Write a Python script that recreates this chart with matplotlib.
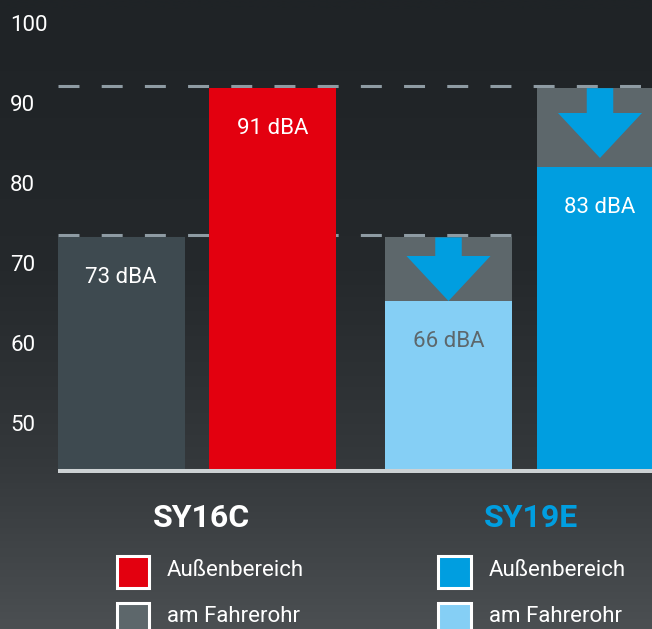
"""Noise comparison SY16C vs SY19E: outdoor level and level at the driver's ear."""
import matplotlib
matplotlib.use("Agg")
import matplotlib.pyplot as plt
import numpy as np
from matplotlib.colors import LinearSegmentedColormap
from matplotlib.patches import FancyArrow, Rectangle

# data ----------------------------------------------------------------------
GROUPS = ["SY16C", "SY19E"]
SERIES = ["am Fahrerohr", "Außenbereich"]
EAR_DBA = [73, 66]            # printed values
OUTDOOR_DBA = [91, 83]
EAR_LEVEL = [73.25, 65.25]    # bar tops as read against the axis
OUTDOOR_LEVEL = [91.9, 82.0]
YTICKS = [50, 60, 70, 80, 90, 100]

# style ---------------------------------------------------------------------
RED = "#e3000f"
BLUE = "#009ee0"
LIGHT_BLUE = "#85cff5"
DARK_GRAY = "#3e4a50"
REF_GRAY = "#5d676b"
DASH = "#8e9ba3"
BASE = "#cdd2d4"

plt.rcParams["font.family"] = ["Liberation Sans Narrow", "Roboto", "DejaVu Sans"]

W, H = 652, 629
fig = plt.figure(figsize=(W / 100, H / 100), dpi=100)

# background gradient
bg = fig.add_axes([0, 0, 1, 1], zorder=0)
cmap = LinearSegmentedColormap.from_list("bg", ["#1f2326", "#25292c", "#34383b", "#4b4f52"])
grad = np.linspace(0, 1, 256) ** 1.3
bg.imshow(grad[:, None], aspect="auto", cmap=cmap, extent=(0, 1, 0, 1))
bg.set_axis_off()

PX_X = 151.5   # pixels per x unit
PX_Y = 8.0     # pixels per dB
bottom_px = 473
ax = fig.add_axes([0, (H - bottom_px) / H, 1, bottom_px / H], zorder=1)
ax.set_facecolor("none")
y0 = 100 - (bottom_px - 23) / PX_Y
ax.set_ylim(y0, y0 + bottom_px / PX_Y)
ax.set_xlim(-121 / PX_X, (W - 121) / PX_X)
for s in ax.spines.values():
    s.set_visible(False)
ax.set_xticks([])
ax.set_yticks(YTICKS)
ax.set_yticklabels([str(t) for t in YTICKS], color="white", fontsize=16)
ax.tick_params(axis="y", length=0, pad=-7.2)
for lab in ax.get_yticklabels():
    lab.set_ha("left")

bw = 127 / PX_X
gap = 176 / PX_X
x_ear = [g * (1 + gap) for g in range(len(GROUPS))]
x_out = [x + 1 for x in x_ear]

# reference levels of the old machine (dashed)
lw = 2.2
left = x_ear[0] - bw / 2
ax.hlines(OUTDOOR_LEVEL[0] + 0.19, left, ax.get_xlim()[1], colors=DASH, lw=lw,
          linestyles=(0, (15.1 / lw, 16.0 / lw)), zorder=1)
ax.hlines(EAR_LEVEL[0] + 0.19, left, x_ear[1] + bw / 2, colors=DASH, lw=lw,
          linestyles=(0, (15.1 / lw, 16.0 / lw)), zorder=1)

# SY16C
ax.bar(x_ear[0], EAR_LEVEL[0] - y0, bw, bottom=y0, color=DARK_GRAY, zorder=2)
ax.bar(x_out[0], OUTDOOR_LEVEL[0] - y0, bw, bottom=y0, color=RED, zorder=2)
# SY19E: old level in gray behind the new one
ax.bar(x_ear[1], EAR_LEVEL[0] - y0, bw, bottom=y0, color=REF_GRAY, zorder=2)
ax.bar(x_out[1], OUTDOOR_LEVEL[0] - y0, bw, bottom=y0, color=REF_GRAY, zorder=2)
ax.bar(x_ear[1], EAR_LEVEL[1] - y0, bw, bottom=y0, color=LIGHT_BLUE, zorder=3)
ax.bar(x_out[1], OUTDOOR_LEVEL[1] - y0, bw, bottom=y0, color=BLUE, zorder=3)

# reduction arrows
for x, old, new, tip in [(x_ear[1], EAR_LEVEL[0], EAR_LEVEL[1], 0.0),
                         (x_out[1], OUTDOOR_LEVEL[0], OUTDOOR_LEVEL[1], 9 / PX_Y)]:
    top = old - 0.05
    ax.add_patch(FancyArrow(x, top, 0, (new + tip) - top, width=26.5 / PX_X,
                            head_width=84 / PX_X, head_length=45 / PX_Y,
                            length_includes_head=True, color=BLUE, lw=0, zorder=4))

# baseline
ax.hlines(100 - (471 - 23) / PX_Y, left, ax.get_xlim()[1], colors=BASE, lw=2.9, zorder=5)

# value labels
labels = [(x_ear[0], EAR_LEVEL[0], EAR_DBA[0], "white"),
          (x_out[0], OUTDOOR_LEVEL[0], OUTDOOR_DBA[0], "white"),
          (x_ear[1], EAR_LEVEL[1], EAR_DBA[1], REF_GRAY),
          (x_out[1], OUTDOOR_LEVEL[1], OUTDOOR_DBA[1], "white")]
for x, lvl, v, c in labels:
    ax.annotate(f"{v} dBA", xy=(x, lvl), xytext=(0, -29), textcoords="offset points",
                ha="center", va="center", color=c, fontsize=16, zorder=6)


# group titles and legends
def fx(px):
    return px / W


def fy(py):
    return 1 - py / H


fig.text(fx(201), fy(518), GROUPS[0], color="white", fontsize=23, fontweight="bold",
         ha="center", va="center", zorder=3)
fig.text(fx(531), fy(518), GROUPS[1], color=BLUE, fontsize=23, fontweight="bold",
         ha="center", va="center", zorder=3)

legend = [(115, [RED, REF_GRAY]), (437, [BLUE, LIGHT_BLUE])]
for lx, cols in legend:
    for row, (col, name) in enumerate(zip(cols, SERIES[::-1])):
        top = 554 + row * 47
        fig.add_artist(Rectangle((fx(lx + 1.5), fy(top + 33.5)), 32 / W, 32 / H,
                                 transform=fig.transFigure, facecolor=col,
                                 edgecolor="white", lw=2.2, zorder=3))
        fig.text(fx(lx + 52), fy(top + 16), name, color="white", fontsize=16,
                 ha="left", va="center", zorder=3)

fig.savefig("out.png", dpi=100)
